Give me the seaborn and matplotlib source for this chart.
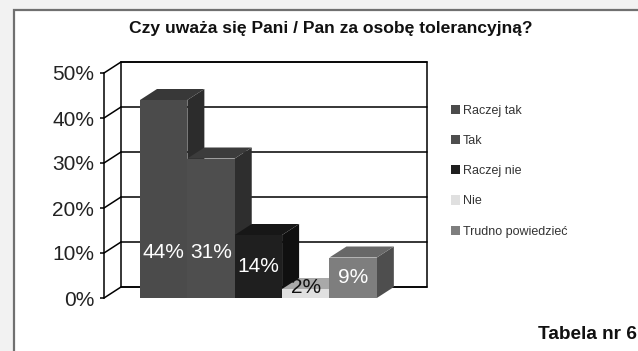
import numpy as np
import pandas as pd
import matplotlib
matplotlib.use("Agg")
import matplotlib.pyplot as plt
import seaborn as sns
from matplotlib.patches import Polygon, Rectangle, Patch

# ---- data ----
categories = ["Raczej tak", "Tak", "Raczej nie", "Nie", "Trudno powiedzieć"]
values = [44, 31, 14, 2, 9]
value_labels = ["44%", "31%", "14%", "2%", "9%"]
y_ticks = [0, 10, 20, 30, 40, 50]
y_tick_labels = ["0%", "10%", "20%", "30%", "40%", "50%"]
title = "Czy uważa się Pani / Pan za osobę tolerancyjną?"
footer = "Tabela nr 6"

# ---- style ----
front_colors = ["#4b4b4b", "#4e4e4e", "#1f1f1f", "#e0e0e0", "#7e7e7e"]
top_colors = ["#383838", "#3c3c3c", "#171717", "#a9a9a9", "#686868"]
side_colors = ["#2c2c2c", "#2e2e2e", "#101010", "#8a8a8a", "#4e4e4e"]
label_colors = ["white", "white", "white", "#111111", "white"]

sns.set_theme(style="white")
plt.rcParams["font.family"] = ["Liberation Sans", "DejaVu Sans"]

W, H = 638, 351
fig = plt.figure(figsize=(W / 100, H / 100), dpi=100)
fig.patch.set_facecolor("#f2f2f2")
fig.patches.append(Rectangle((14 / W, -0.05), 1.0, (H - 10) / H + 0.05,
                             transform=fig.transFigure, facecolor="white",
                             edgecolor="#707070", linewidth=1.6, zorder=-5))

ax = fig.add_axes([104 / W, (H - 298) / H, 306 / W, 225 / H])
ax.set_facecolor("none")
ax.set_zorder(1)

df = pd.DataFrame({"cat": categories, "val": values})
sns.barplot(data=df, x="cat", y="val", hue="cat", palette=front_colors,
            width=1.0, saturation=1, legend=False, ax=ax, linewidth=0)

xl, xr = -1.26, 5.2
ax.set_xlim(xl, xr)
ax.set_ylim(0, 50)

# depth of the pseudo-3D projection, in pixels converted to data units
px_x = ax.bbox.width / (xr - xl)
px_y = ax.bbox.height / 50
ddx = 17 / px_x
ddy = 11 / px_y

# back wall and gridlines
ax.add_patch(Rectangle((xl + ddx, ddy), xr - xl, 50, facecolor="white",
                       edgecolor="black", linewidth=1.1, clip_on=False, zorder=1))
for t in y_ticks:
    ax.plot([xl + ddx, xr + ddx], [t + ddy, t + ddy], color="black", lw=1.1,
            clip_on=False, zorder=1.5)
    ax.plot([xl, xl + ddx], [t, t + ddy], color="black", lw=1.1,
            clip_on=False, zorder=1.5)

# 3D faces of bars
bars = sorted([p for p in ax.patches if isinstance(p, Rectangle) and p.get_height() > 0
               and p.get_width() < 2], key=lambda p: p.get_x())
for i, p in enumerate(bars):
    x0, w, h = p.get_x(), p.get_width(), p.get_height()
    z = 3 + i * 0.1
    side = Polygon([(x0 + w, 0), (x0 + w + ddx, ddy), (x0 + w + ddx, h + ddy), (x0 + w, h)],
                   closed=True, facecolor=side_colors[i], edgecolor="none",
                   clip_on=False, zorder=z)
    top = Polygon([(x0, h), (x0 + w, h), (x0 + w + ddx, h + ddy), (x0 + ddx, h + ddy)],
                  closed=True, facecolor=top_colors[i], edgecolor="none",
                  clip_on=False, zorder=z + 0.01)
    ax.add_patch(side)
    ax.add_patch(top)
    p.set_zorder(z + 0.02)
    p.set_clip_on(False)
    ax.text(x0 + w / 2, max(min(h / 2, 10), 2.3), value_labels[i], ha="center",
            va="center", color=label_colors[i], fontsize=15, zorder=10)

# axes styling
for s in ["top", "right", "bottom"]:
    ax.spines[s].set_visible(False)
ax.spines["left"].set_color("black")
ax.spines["left"].set_linewidth(1.1)
ax.set_yticks(y_ticks)
ax.set_yticklabels(y_tick_labels)
ax.tick_params(axis="y", left=True, length=3, width=1.1, color="black",
               labelsize=15, labelcolor="#222222", pad=4)
ax.set_xticks([])
ax.set_xlabel("")
ax.set_ylabel("")

# legend
handles = [Patch(facecolor=c, edgecolor="none") for c in front_colors]
leg = fig.legend(handles, categories, loc="upper left",
                 bbox_to_anchor=(451 / W, 1 - 105 / H), frameon=False, fontsize=9,
                 handlelength=0.75, handleheight=0.75, handletextpad=0.2,
                 labelspacing=1.45, borderpad=0, borderaxespad=0)
for t in leg.get_texts():
    t.set_color("#333333")

fig.text(331 / W, 1 - 28 / H, title, ha="center", va="center",
         fontsize=12.6, fontweight="bold", color="#111111")
fig.text(637 / W, (H - 339) / H, footer, ha="right", va="baseline",
         fontsize=13.7, fontweight="bold", color="#111111")

fig.savefig("out.png", dpi=100)
